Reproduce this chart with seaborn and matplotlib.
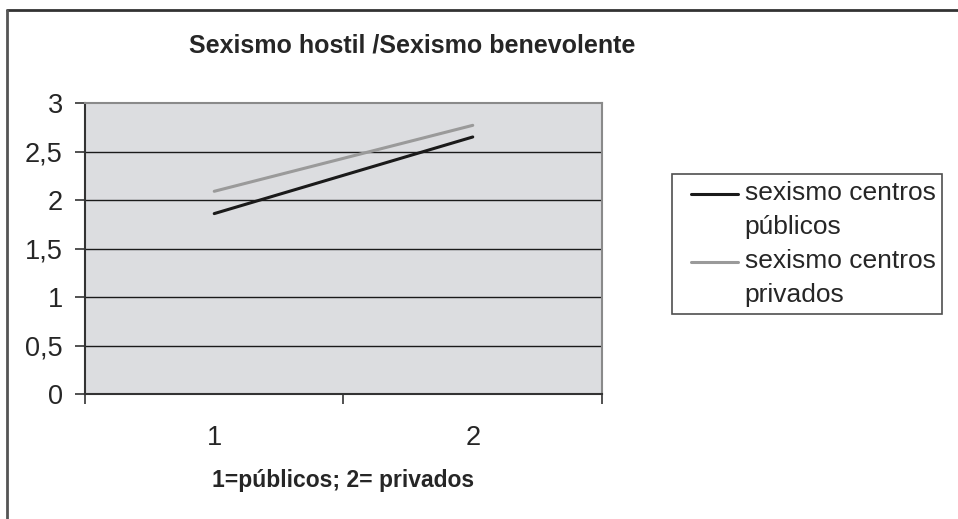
import numpy as np
import pandas as pd
import matplotlib.pyplot as plt
import seaborn as sns
from matplotlib.lines import Line2D
from matplotlib.legend_handler import HandlerLine2D
from matplotlib.ticker import FixedLocator, NullFormatter

# -----------------------------
# Data
# -----------------------------
grupos = [1, 2]
publicos = [1.86, 2.65]
privados = [2.09, 2.77]
series_names = ["sexismo centros\npúblicos", "sexismo centros\nprivados"]
y_ticks = [0, 0.5, 1, 1.5, 2, 2.5, 3]
y_labels = ["0", "0,5", "1", "1,5", "2", "2,5", "3"]

df = pd.DataFrame({
    "grupo": grupos * 2,
    "valor": publicos + privados,
    "serie": [series_names[0]] * 2 + [series_names[1]] * 2,
})


# legend handle aligned with the first text line (Excel style)
class FirstLineHandler(HandlerLine2D):
    def create_artists(self, legend, orig_handle, xdescent, ydescent,
                       width, height, fontsize, trans):
        artists = super().create_artists(legend, orig_handle, xdescent, ydescent,
                                         width, height, fontsize, trans)
        for a in artists:
            if isinstance(a, Line2D):
                a.set_ydata(np.asarray(a.get_ydata()) + 0.62 * fontsize)
                xd = np.asarray(a.get_xdata(), dtype=float)
                xd[0] = xd[0] + 0.45 * fontsize
                a.set_xdata(xd)
        return artists


# -----------------------------
# Style
# -----------------------------
sns.set_theme(style="white")
plt.rcParams["font.family"] = ["Liberation Sans", "DejaVu Sans"]

fig = plt.figure(figsize=(9.58, 5.19), dpi=100)
ax = fig.add_axes([0.0887, 0.2408, 0.5397, 0.5607])
ax.set_facecolor("#dcdde0")

# horizontal grid lines
for v in y_ticks[1:-1]:
    ax.axhline(v, color="#1a1a1a", lw=1.0, zorder=1)

sns.lineplot(
    data=df, x="grupo", y="valor", hue="serie",
    palette=["#1a1a1a", "#9a9a9a"], linewidth=2.2, ax=ax, zorder=3,
)

ax.set_xlim(0.5, 2.5)
ax.set_ylim(0, 3)
ax.set_yticks(y_ticks)
ax.set_yticklabels(y_labels, fontsize=19.5)

# category labels without tick marks, tick marks between categories
ax.set_xticks(grupos)
ax.set_xticklabels([str(g) for g in grupos], fontsize=19.5)
ax.tick_params(axis="x", which="major", length=0, pad=22)
ax.xaxis.set_minor_locator(FixedLocator([0.5, 1.5, 2.5]))
ax.xaxis.set_minor_formatter(NullFormatter())
ax.tick_params(axis="x", which="minor", bottom=True, length=7, width=1.2, color="#333333")
ax.tick_params(axis="y", left=True, length=7, width=1.2, color="#333333", pad=9)

for side in ["top", "right"]:
    ax.spines[side].set_color("#8a8a8a")
    ax.spines[side].set_linewidth(1.5)
for side in ["left", "bottom"]:
    ax.spines[side].set_color("#333333")
    ax.spines[side].set_linewidth(1.5)

ax.set_xlabel("1=públicos; 2= privados", fontsize=16.5, fontweight="bold", labelpad=13)
ax.set_ylabel("")

fig.suptitle("Sexismo hostil /Sexismo benevolente", fontsize=18, fontweight="bold",
             x=0.43, y=0.913, va="center")

# legend
handles, labels = ax.get_legend_handles_labels()
ax.get_legend().remove()
leg = fig.legend(handles, labels, loc="center left", bbox_to_anchor=(0.7015, 0.53),
                 fontsize=19, frameon=True, fancybox=False, borderpad=0.25,
                 handlelength=2.25, handletextpad=0.25, labelspacing=0.35,
                 borderaxespad=0,
                 handler_map={Line2D: FirstLineHandler()})
for t in leg.get_texts():
    t.set_linespacing(1.55)
leg.get_frame().set_edgecolor("#222222")
leg.get_frame().set_linewidth(1.2)

# outer border (top and left only visible)
fig.add_artist(plt.Line2D([0.0068, 1.0], [0.981, 0.981], transform=fig.transFigure,
                          color="#333333", lw=2))
fig.add_artist(plt.Line2D([0.0068, 0.0068], [0.0, 0.981], transform=fig.transFigure,
                          color="#555555", lw=2))

plt.savefig("out.png", dpi=100)
plt.close()
